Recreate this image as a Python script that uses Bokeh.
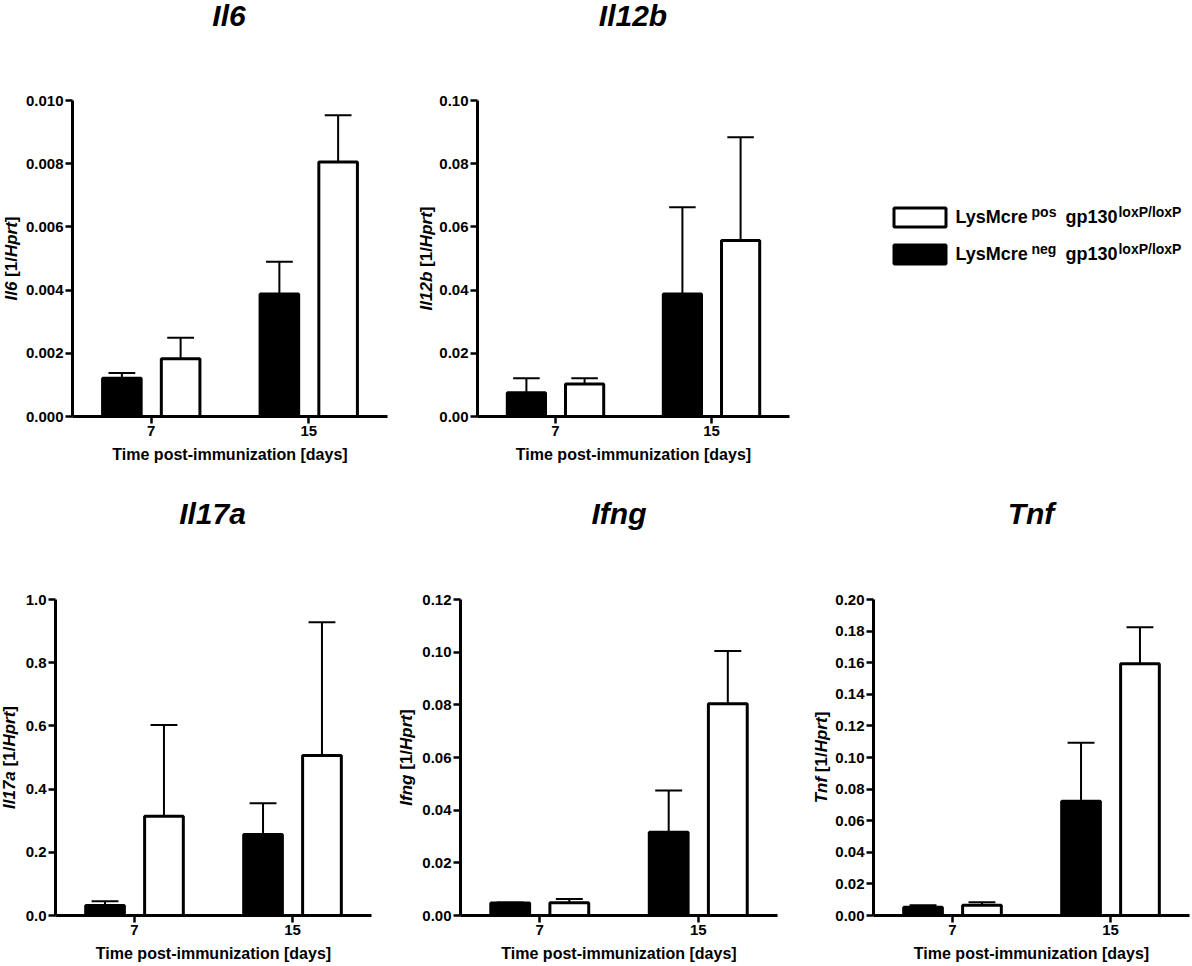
import numpy as np
from bokeh.plotting import figure
from bokeh.models import (FactorRange, Range1d, FixedTicker, PrintfTickFormatter,
                          Label, ColumnDataSource)
from bokeh.transform import dodge
from bokeh.layouts import row, column
from bokeh.embed import file_html
from bokeh.resources import INLINE

# ---------------- data ----------------
days = ["7", "15"]
genes = ["Il6", "Il12b", "Il17a", "Ifng", "Tnf"]

# LysMcre-neg (black bars) mean and SEM
il6_neg = [0.00121, 0.00388]
il6_neg_sem = [0.00017, 0.00102]
il12b_neg = [0.0075, 0.0388]
il12b_neg_sem = [0.0046, 0.0274]
il17a_neg = [0.032, 0.256]
il17a_neg_sem = [0.013, 0.099]
ifng_neg = [0.0047, 0.0316]
ifng_neg_sem = [0.0002, 0.0159]
tnf_neg = [0.0053, 0.0723]
tnf_neg_sem = [0.0012, 0.0370]

# LysMcre-pos (white bars) mean and SEM
il6_pos = [0.00183, 0.00805]
il6_pos_sem = [0.00066, 0.00148]
il12b_pos = [0.0103, 0.0557]
il12b_pos_sem = [0.0018, 0.0327]
il17a_pos = [0.314, 0.506]
il17a_pos_sem = [0.289, 0.422]
ifng_pos = [0.0048, 0.0804]
ifng_pos_sem = [0.0015, 0.0200]
tnf_pos = [0.0065, 0.1593]
tnf_pos_sem = [0.0019, 0.0232]

il6_ticks = [0.0, 0.002, 0.004, 0.006, 0.008, 0.010]
il12b_ticks = [0.0, 0.02, 0.04, 0.06, 0.08, 0.10]
il17a_ticks = [0.0, 0.2, 0.4, 0.6, 0.8, 1.0]
ifng_ticks = [0.0, 0.02, 0.04, 0.06, 0.08, 0.10, 0.12]
tnf_ticks = [0.0, 0.02, 0.04, 0.06, 0.08, 0.10, 0.12, 0.14, 0.16, 0.18, 0.20]

x_label = "Time post-immunization [days]"
legend_pos = ("LysMcre", "pos", "gp130", "loxP/loxP")
legend_neg = ("LysMcre", "neg", "gp130", "loxP/loxP")

FONT = "Liberation Sans"

# Arial/Liberation Sans Bold advance widths (per 1000 em)
W = {' ': 278, '[': 333, ']': 333, '/': 278, 'H': 722, 'I': 278, 'L': 611,
     'M': 833, 'P': 667, 'T': 611, 'a': 556, 'b': 611, 'c': 556, 'e': 556,
     'f': 333, 'g': 611, 'l': 278, 'n': 611, 'o': 611, 'p': 611, 'r': 389,
     's': 556, 't': 333, 'x': 556, 'y': 556}
for d in "0123456789":
    W[d] = 556


def tw(s, size):
    return sum(W.get(c, 556) for c in s) * size / 1000.0


def mid(baseline, size, sign=1):
    # centre of the text box relative to the alphabetic baseline
    return baseline - sign * 0.3465 * size


def canvas(w, h, xr, yr, mbt=0, mbb=0):
    c = figure(width=w, height=h, output_backend="svg", toolbar_location=None,
               x_range=Range1d(*xr), y_range=Range1d(*yr),
               x_axis_type=None, y_axis_type=None,
               min_border_left=0, min_border_right=0,
               min_border_top=mbt, min_border_bottom=mbb,
               background_fill_color="white", border_fill_color="white")
    c.title = None
    c.outline_line_color = None
    c.grid.visible = False
    return c


def txt(c, x, y, s, size, style="bold", align="left", angle=0.0):
    c.add_layout(Label(x=x, y=y, text=s, text_font=FONT, text_font_style=style,
                       text_font_size=f"{size}px", text_align=align,
                       text_baseline="middle", text_color="black", angle=angle))


def ylabel(c, name, xbase, ycenter, fs=17):
    # (text, style, gap before) -- no leading spaces (SVG collapses them)
    segs = [(name, "bold italic", 0.0), ("[1/", "bold", tw(" ", fs)),
            ("Hprt", "bold italic", 0.0), ("]", "bold", 0.0)]
    total = sum(tw(s, fs) + g for s, _, g in segs)
    y = ycenter + total / 2
    xm = mid(xbase, fs)
    for s, st, g in segs:
        y -= g
        txt(c, xm, y, s, fs, style=st, angle=np.pi / 2)
        y -= tw(s, fs)


def panel(neg, neg_sem, pos, pos_sem, ticks, fmt, w, h, mbl, mbr, mbt, mbb):
    p = figure(width=w, height=h, output_backend="svg", toolbar_location=None,
               x_range=FactorRange(factors=days, range_padding=0),
               y_range=Range1d(0, ticks[-1]),
               min_border_left=mbl, min_border_right=mbr,
               min_border_top=mbt, min_border_bottom=mbb,
               background_fill_color="white", border_fill_color="white")
    p.title = None
    p.outline_line_color = None
    p.xgrid.visible = False
    p.ygrid.visible = False

    src = ColumnDataSource(dict(
        day=days, neg=neg, pos=pos,
        neg_top=[m + s for m, s in zip(neg, neg_sem)],
        pos_top=[m + s for m, s in zip(pos, pos_sem)]))

    off = 0.1865
    cap = 0.085
    for key, o in (("neg", -off), ("pos", off)):
        p.segment(x0=dodge("day", o, range=p.x_range), y0=key,
                  x1=dodge("day", o, range=p.x_range), y1=key + "_top",
                  line_color="black", line_width=2, source=src)
        p.segment(x0=dodge("day", o - cap, range=p.x_range), y0=key + "_top",
                  x1=dodge("day", o + cap, range=p.x_range), y1=key + "_top",
                  line_color="black", line_width=2, source=src)
    p.vbar(x=dodge("day", -off, range=p.x_range), top="neg", width=0.245,
           fill_color="black", line_color="black", line_width=3, source=src)
    p.vbar(x=dodge("day", off, range=p.x_range), top="pos", width=0.245,
           fill_color="white", line_color="black", line_width=3, source=src)

    for ax in (p.xaxis[0], p.yaxis[0]):
        ax.axis_line_width = 3
        ax.axis_line_color = "black"
        ax.major_tick_line_width = 2.5
        ax.major_tick_line_color = "black"
        ax.major_tick_out = 7
        ax.major_tick_in = 0
        ax.minor_tick_line_color = None
        ax.major_label_text_font = FONT
        ax.major_label_text_font_style = "bold"
        ax.major_label_text_font_size = "15px"
        ax.major_label_text_color = "black"
        ax.major_label_standoff = 2
    p.yaxis.ticker = FixedTicker(ticks=ticks)
    p.yaxis.formatter = PrintfTickFormatter(format=fmt)
    p.xaxis.axis_label = x_label
    p.xaxis.axis_label_text_font = FONT
    p.xaxis.axis_label_text_font_style = "bold"
    p.xaxis.axis_label_text_font_size = "16px"
    p.xaxis.axis_label_text_color = "black"
    p.xaxis.axis_label_standoff = 7
    return p


# ---------- titles (top strip) ----------
t_top = canvas(1192, 88, (0, 1192), (88, 0))
txt(t_top, 228.5, mid(25, 30), genes[0], 30, style="bold italic", align="center")
txt(t_top, 632.5, mid(25, 30), genes[1], 30, style="bold italic", align="center")

# ---------- top row: y 88..480, frame 100..416 ----------
TOP_MBT, TOP_MBB = 12, 64
yl1 = canvas(22, 392, (0, 22), (416, 100), TOP_MBT, TOP_MBB)
ylabel(yl1, genes[0], 17, 258)
f1 = panel(il6_neg, il6_neg_sem, il6_pos, il6_pos_sem, il6_ticks, "%.3f",
           378, 392, 48, 13, TOP_MBT, TOP_MBB)
yl2 = canvas(36, 392, (400, 436), (416, 100), TOP_MBT, TOP_MBB)
ylabel(yl2, genes[1], 432, 258)
f2 = panel(il12b_neg, il12b_neg_sem, il12b_pos, il12b_pos_sem, il12b_ticks, "%.2f",
           364, 392, 40, 11, TOP_MBT, TOP_MBB)

leg = canvas(392, 392, (800, 1192), (416, 100), TOP_MBT, TOP_MBB)
leg.quad(left=[893.5], right=[945.5], top=[207.5], bottom=[226.5],
         fill_color="white", line_color="black", line_width=3)
leg.quad(left=[893.5], right=[945.5], top=[244.5], bottom=[263.5],
         fill_color="black", line_color="black", line_width=3)
for entry, base in ((legend_pos, 223), (legend_neg, 260)):
    main1, sup1, main2, sup2 = entry
    x = 955
    txt(leg, x, mid(base, 18), main1, 18)
    x += tw(main1, 18) + 3
    txt(leg, x, mid(base - 7, 14), sup1, 14)
    x += tw(sup1, 14) + 9
    txt(leg, x, mid(base, 18), main2, 18)
    x += tw(main2, 18) + 1
    txt(leg, x, mid(base - 7, 14), sup2, 14)

# ---------- titles (bottom strip) y 480..590 ----------
t_bot = canvas(1192, 110, (0, 1192), (590, 480))
txt(t_bot, 212, mid(523, 30), genes[2], 30, style="bold italic", align="center")
txt(t_bot, 618.5, mid(523, 30), genes[3], 30, style="bold italic", align="center")
txt(t_bot, 1030.5, mid(523, 30), genes[4], 30, style="bold italic", align="center")

# ---------- bottom row: y 590..966, frame 599..915 ----------
BOT_MBT, BOT_MBB = 9, 51
yl3 = canvas(22, 376, (0, 22), (915, 599), BOT_MBT, BOT_MBB)
ylabel(yl3, genes[2], 15, 757)
f3 = panel(il17a_neg, il17a_neg_sem, il17a_pos, il17a_pos_sem, il17a_ticks, "%.1f",
           368, 376, 31, 19, BOT_MBT, BOT_MBB)
yl4 = canvas(28, 376, (390, 418), (915, 599), BOT_MBT, BOT_MBB)
ylabel(yl4, genes[3], 412, 757)
f4 = panel(ifng_neg, ifng_neg_sem, ifng_pos, ifng_pos_sem, ifng_ticks, "%.2f",
           362, 376, 42, 3, BOT_MBT, BOT_MBB)
yl5 = canvas(52, 376, (780, 832), (915, 599), BOT_MBT, BOT_MBB)
ylabel(yl5, genes[4], 827, 757)
f5 = panel(tnf_neg, tnf_neg_sem, tnf_pos, tnf_pos_sem, tnf_ticks, "%.2f",
           360, 376, 40, 3, BOT_MBT, BOT_MBB)

layout = column(t_top, row(yl1, f1, yl2, f2, leg), t_bot, row(yl3, f3, yl4, f4, yl5, f5))
open("out.html", "w").write(file_html(layout, INLINE))
